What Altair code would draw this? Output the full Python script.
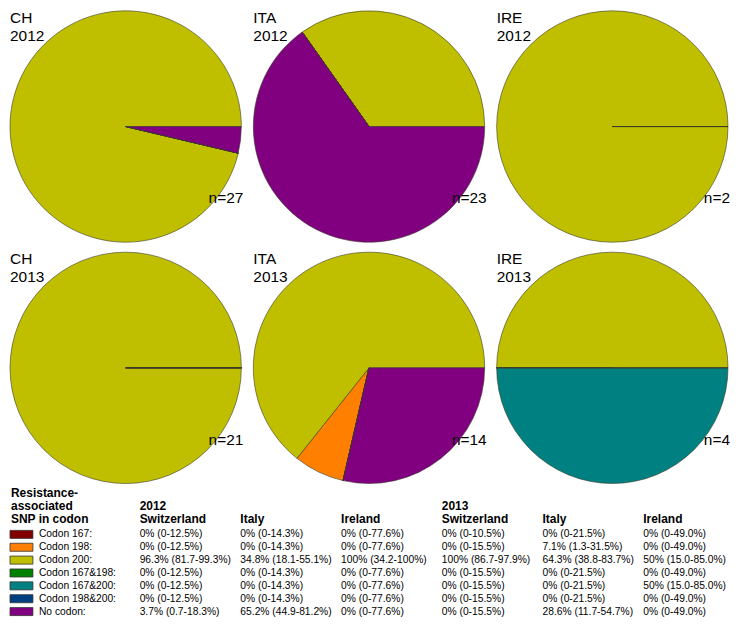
import math
import altair as alt
import pandas as pd

FONT = "Liberation Sans"

# ---- data ----
categories = ["Codon 167", "Codon 198", "Codon 200", "Codon 167&198",
              "Codon 167&200", "Codon 198&200", "No codon"]
colors = ["#800000", "#FF8000", "#BFBF00", "#008000", "#008080", "#004080", "#800080"]
# order of slices (counter-clockwise from 3 o'clock)
pie_order = ["Codon 200", "Codon 198", "Codon 167", "Codon 167&198",
             "Codon 198&200", "Codon 167&200", "No codon"]

panel_country = ["CH", "ITA", "IRE", "CH", "ITA", "IRE"]
panel_year = ["2012", "2012", "2012", "2013", "2013", "2013"]
panel_n = [27, 23, 2, 21, 14, 4]

pct_ch_2012 = [0, 0, 96.3, 0, 0, 0, 3.7]
pct_ita_2012 = [0, 0, 34.8, 0, 0, 0, 65.2]
pct_ire_2012 = [0, 0, 100, 0, 0, 0, 0]
pct_ch_2013 = [0, 0, 100, 0, 0, 0, 0]
pct_ita_2013 = [0, 7.1, 64.3, 0, 0, 0, 28.6]
pct_ire_2013 = [0, 0, 50, 0, 50, 0, 0]

ci_ch_2012 = ["0-12.5%", "0-12.5%", "81.7-99.3%", "0-12.5%", "0-12.5%", "0-12.5%", "0.7-18.3%"]
ci_ita_2012 = ["0-14.3%", "0-14.3%", "18.1-55.1%", "0-14.3%", "0-14.3%", "0-14.3%", "44.9-81.2%"]
ci_ire_2012 = ["0-77.6%", "0-77.6%", "34.2-100%", "0-77.6%", "0-77.6%", "0-77.6%", "0-77.6%"]
ci_ch_2013 = ["0-10.5%", "0-15.5%", "86.7-97.9%", "0-15.5%", "0-15.5%", "0-15.5%", "0-15.5%"]
ci_ita_2013 = ["0-21.5%", "1.3-31.5%", "38.8-83.7%", "0-21.5%", "0-21.5%", "0-21.5%", "11.7-54.7%"]
ci_ire_2013 = ["0-49.0%", "0-49.0%", "15.0-85.0%", "0-49.0%", "15.0-85.0%", "0-49.0%", "0-49.0%"]

pcts = [pct_ch_2012, pct_ita_2012, pct_ire_2012, pct_ch_2013, pct_ita_2013, pct_ire_2013]
cis = [ci_ch_2012, ci_ita_2012, ci_ire_2012, ci_ch_2013, ci_ita_2013, ci_ire_2013]

col_countries = ["Switzerland", "Italy", "Ireland", "Switzerland", "Italy", "Ireland"]
col_years = ["2012", "", "", "2013", "", ""]
header_lines = "Resistance-\nassociated\nSNP in codon"

# ---- pies ----
PW = 232
color_scale = alt.Scale(domain=categories, range=colors)
theta_scale = alt.Scale(domain=[0, 100], range=[math.pi / 2, math.pi / 2 - 2 * math.pi])


def pie(i):
    df = pd.DataFrame({
        "cat": categories,
        "pct": pcts[i],
        "ord": [pie_order.index(c) for c in categories],
    })
    arcs = alt.Chart(df).mark_arc(stroke="#3a3a2a", strokeWidth=0.6).encode(
        theta=alt.Theta("pct:Q", stack=True, scale=theta_scale),
        color=alt.Color("cat:N", scale=color_scale, legend=None),
        order=alt.Order("ord:Q", sort="ascending"),
    )
    name = alt.Chart(pd.DataFrame({"t": [f"{panel_country[i]}\n{panel_year[i]}"]})).mark_text(
        align="left", baseline="top", lineBreak="\n", fontSize=15.5, lineHeight=18,
        font=FONT, color="black"
    ).encode(text="t:N", x=alt.value(0), y=alt.value(0))
    nlab = alt.Chart(pd.DataFrame({"t": [f"n={panel_n[i]}"]})).mark_text(
        align="right", baseline="top", fontSize=15.5, font=FONT, color="black"
    ).encode(text="t:N", x=alt.value(PW + 2), y=alt.value(181))
    return alt.layer(arcs, name, nlab).properties(width=PW, height=PW)


row1 = alt.hconcat(pie(0), pie(1), pie(2), spacing=8)
row2 = alt.hconcat(pie(3), pie(4), pie(5), spacing=8)

# ---- table ----
recs = []
for k in range(6):
    for r, c in enumerate(categories):
        recs.append({"col": k, "row": r, "t": f"{pcts[k][r]:g}% ({cis[k][r]})"})
vals = pd.DataFrame(recs)
labels = pd.DataFrame({"col": [-1] * 7, "row": list(range(7)),
                       "t": [c + ":" for c in categories], "cat": categories})
heads = pd.DataFrame({"col": list(range(6)), "country": col_countries, "year": col_years})

xs = alt.Scale(domain=[-1, 5], range=[29, 29 + 101 * 6])
ys = alt.Scale(domain=[0, 6], range=[47, 47 + 12.9 * 6])
TF = 10.3

t_vals = alt.Chart(vals).mark_text(align="left", baseline="middle", fontSize=TF, font=FONT, color="black").encode(
    x=alt.X("col:Q", scale=xs, axis=None), y=alt.Y("row:Q", scale=ys, axis=None), text="t:N")
t_labels = alt.Chart(labels).mark_text(align="left", baseline="middle", fontSize=TF, font=FONT, color="black").encode(
    x=alt.X("col:Q", scale=xs, axis=None), y=alt.Y("row:Q", scale=ys, axis=None), text="t:N")
swatches = alt.Chart(labels).mark_point(
    shape="M-1,-0.35L1,-0.35L1,0.35L-1,0.35Z", filled=True, size=529, opacity=1,
    stroke="#333333", strokeWidth=0.8
).encode(
    x=alt.value(11.5), y=alt.Y("row:Q", scale=ys, axis=None),
    fill=alt.Fill("cat:N", scale=color_scale, legend=None))
t_country = alt.Chart(heads).mark_text(align="left", baseline="middle", fontSize=12, fontWeight="bold",
                                       font=FONT, color="black").encode(
    x=alt.X("col:Q", scale=xs, axis=None), y=alt.value(32), text="country:N")
t_year = alt.Chart(heads).mark_text(align="left", baseline="middle", fontSize=12, fontWeight="bold",
                                    font=FONT, color="black").encode(
    x=alt.X("col:Q", scale=xs, axis=None), y=alt.value(19), text="year:N")
t_head = alt.Chart(pd.DataFrame({"t": [header_lines]})).mark_text(
    align="left", baseline="middle", lineBreak="\n", fontSize=12, fontWeight="bold", lineHeight=13,
    font=FONT, color="black").encode(x=alt.value(1), y=alt.value(6), text="t:N")

table = alt.layer(swatches, t_labels, t_vals, t_country, t_year, t_head).properties(width=720, height=132)

chart = alt.vconcat(
    alt.vconcat(row1, row2, spacing=6),
    table,
    spacing=2,
    padding=0,
).configure_view(stroke=None)

chart.save("out.html", embed_options={"renderer": "svg", "actions": False})
